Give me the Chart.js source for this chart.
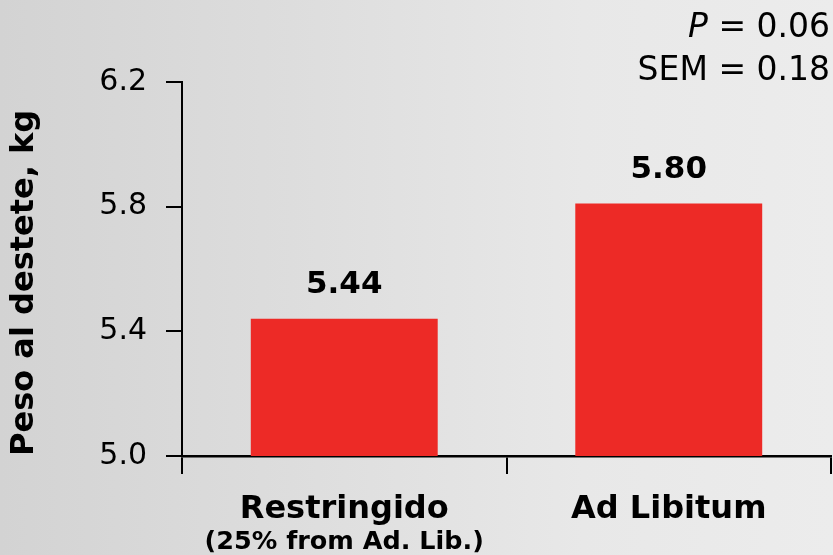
<!DOCTYPE html>
<html><head><meta charset="utf-8">
<script src="https://cdn.jsdelivr.net/npm/chart.js@4.4.1/dist/chart.umd.min.js"></script>
<style>
html,body{margin:0;padding:0;}
body{width:833px;height:555px;overflow:hidden;background:linear-gradient(to right,#d3d3d3 0%,#dddddd 35%,#e8e8e8 70%,#ececec 100%);}
#wrap{position:relative;width:833px;height:555px;}
</style></head><body>
<div id="wrap"><canvas id="c" width="833" height="555"></canvas></div>
<script>
const categories = ["Restringido", "Ad Libitum"];
const subLabels = ["(25% from Ad. Lib.)", ""];
const weights = [5.44, 5.81];
const valueLabels = ["5.44", "5.80"];
const yTicks = [5.0, 5.4, 5.8, 6.2];
const statItalic = ["P", ""];
const statText = [" = 0.06", "SEM = 0.18"];
const yTitle = "Peso al destete, kg";

const FONT = '"DejaVu Sans", Verdana, sans-serif';

const annot = {
  id: 'annot',
  afterDatasetsDraw(chart) {
    const ctx = chart.ctx;
    const meta = chart.getDatasetMeta(0);
    ctx.save();
    ctx.fillStyle = '#000';
    ctx.textAlign = 'center';
    ctx.textBaseline = 'alphabetic';
    ctx.font = 'bold 31px ' + FONT;
    meta.data.forEach((bar, i) => ctx.fillText(valueLabels[i], bar.x, bar.y - 26));
    const xs = chart.scales.x;
    ctx.font = 'bold 25.5px ' + FONT;
    subLabels.forEach((t, i) => { if (t) ctx.fillText(t, xs.getPixelForValue(i), 549); });
    ctx.textAlign = 'left';
    const right = 830;
    const baselines = [37, 80];
    statText.forEach((rest, i) => {
      ctx.font = '33px ' + FONT;
      const wr = ctx.measureText(rest).width;
      ctx.fillText(rest, right - wr, baselines[i]);
      if (statItalic[i]) {
        ctx.font = 'italic 33px ' + FONT;
        const wi = ctx.measureText(statItalic[i]).width;
        ctx.fillText(statItalic[i], right - wr - wi, baselines[i]);
      }
    });
    ctx.restore();
  }
};

new Chart(document.getElementById('c'), {
  type: 'bar',
  data: {
    labels: categories,
    datasets: [{
      data: weights,
      backgroundColor: '#ED2A26',
      borderWidth: 0,
      categoryPercentage: 1,
      barPercentage: 0.576
    }]
  },
  options: {
    responsive: false,
    animation: false,
    devicePixelRatio: 1,
    layout: { padding: { top: 82, right: 2, left: 0, bottom: 0 } },
    plugins: { legend: { display: false }, tooltip: { enabled: false } },
    scales: {
      x: {
        grid: { display: true, drawOnChartArea: false, offset: true, tickLength: 18, color: '#000', lineWidth: 2 },
        border: { display: true, color: '#000', width: 2.5 },
        ticks: { color: '#000', font: { family: FONT, size: 32, weight: 'bold' }, padding: 16, maxRotation: 0 },
        afterFit: s => { s.height = 99; }
      },
      y: {
        min: 5.0, max: 6.2,
        afterBuildTicks: s => { s.ticks = yTicks.map(v => ({ value: v })); },
        grid: { display: true, drawOnChartArea: false, tickLength: 16, color: '#000', lineWidth: 2 },
        border: { display: true, color: '#000', width: 2 },
        ticks: { color: '#000', font: { family: FONT, size: 30 }, padding: 19, callback: v => Number(v).toFixed(1) },
        title: { display: true, text: yTitle, align: 'start', color: '#000', font: { family: FONT, size: 32, weight: 'bold' }, padding: { top: 5, bottom: 0 } },
        afterFit: s => { s.width = 182; }
      }
    }
  },
  plugins: [annot]
});
</script>
</body></html>
